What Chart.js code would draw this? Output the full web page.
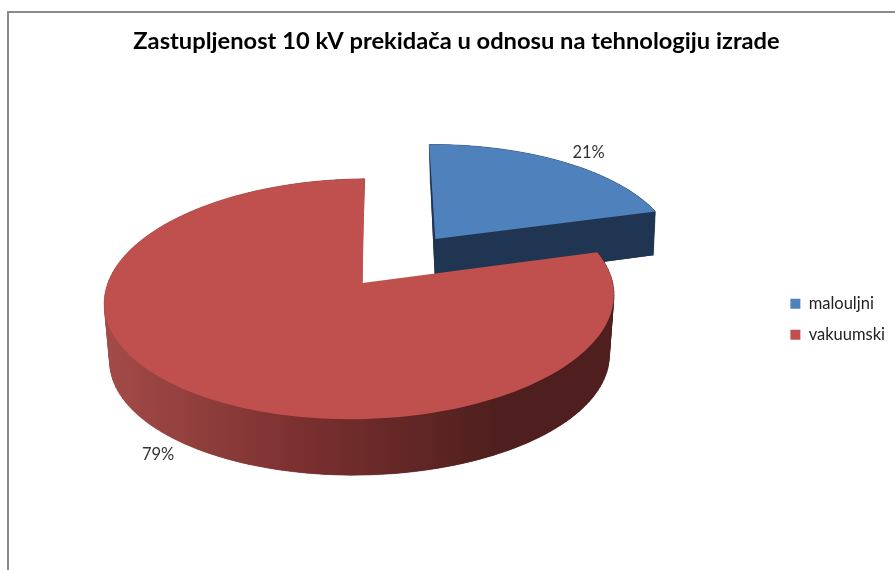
<!DOCTYPE html>
<html><head><meta charset="utf-8">
<style>html,body{margin:0;padding:0;background:#fff}#w{width:895px;height:570px}</style>
<script src="https://cdn.jsdelivr.net/npm/chart.js@4"></script>
</head><body><div id="w"><canvas id="c" width="895" height="570"></canvas></div>
<script>
const categories = ['malouljni', 'vakuumski'];
const shares = [21, 79];
const sliceColors = ['#4f81bd', '#c0504d'];
const chartTitle = 'Zastupljenost 10 kV prekidača u odnosu na tehnologiju izrade';
const explode = [0.49, 0];
const labelRing = [1.25, 1.155];
const labelNudge = [[-2,8],[-3,-11]];

const TOP = {cx:362.5, cy:283, rx:252.5, ry:118, k:0.133, m:-0.012, sx:0.01, sy:-0.024};
const BOTS = [
  {cx:362.5, cy:331, rx:250, ry:125, k:0.133, m:-0.012, sx:0.016, sy:-0.024},
  {cx:362.5, cy:343, rx:247.5, ry:114.5, k:0.133, m:-0.012, sx:0, sy:-0.024}
];
function proj(p,u,v){
  const s=1/(1-p.k*v-p.m*u);
  return [p.cx+p.rx*s*(u-p.sx*v),p.cy+p.ry*s*(v+p.sy*u)];
}
function wedgePts(p,el,ex){
  const mid=(el.startAngle+el.endAngle)/2, ox=ex*Math.cos(mid), oy=ex*Math.sin(mid), pts=[];
  const n=160;
  for(let i=0;i<=n;i++){const a=el.startAngle+(el.endAngle-el.startAngle)*i/n;pts.push(proj(p,ox+Math.cos(a),oy+Math.sin(a)));}
  return {apex:proj(p,ox,oy),arc:pts};
}
function trace(ctx,pts){pts.forEach((q,i)=>i?ctx.lineTo(q[0],q[1]):ctx.moveTo(q[0],q[1]));ctx.closePath();}
const pie3d = {
  id:'pie3d',
  beforeDraw(chart){
    const c=chart.ctx;c.save();c.strokeStyle='#8a8a8a';c.lineWidth=2;
    c.beginPath();c.moveTo(8,570);c.lineTo(8,12);c.lineTo(895,12);c.stroke();c.restore();
  },
  beforeDatasetsDraw(chart){
    const c=chart.ctx, arcs=chart.getDatasetMeta(0).data;
    const wallFill=[ '#1f3552', (()=>{const g=c.createLinearGradient(104,0,500,0);
      g.addColorStop(0,'#a44b49');g.addColorStop(.5,'#7a302f');g.addColorStop(1,'#4e1f1e');return g;})() ];
    arcs.forEach((el,i)=>{
      const t=wedgePts(TOP,el,explode[i]), b=wedgePts(BOTS[i],el,explode[i]);
      c.save();
      c.fillStyle=wallFill[i];c.strokeStyle=wallFill[i];c.lineWidth=0.6;
      c.beginPath();trace(c,[b.apex,...b.arc]);c.fill();
      for(let j=0;j<t.arc.length-1;j++){
        c.beginPath();trace(c,[t.arc[j],t.arc[j+1],b.arc[j+1],b.arc[j]]);c.fill();c.stroke();
      }
      if(explode[i]>0){
        c.beginPath();trace(c,[t.apex,t.arc[0],b.arc[0],b.apex]);c.fill();
        c.beginPath();trace(c,[t.apex,t.arc[t.arc.length-1],b.arc[b.arc.length-1],b.apex]);c.fill();
      }
      c.fillStyle=sliceColors[i];
      c.beginPath();trace(c,[t.apex,...t.arc]);c.fill();
      c.restore();
    });
    return false;
  },
  afterDraw(chart){
    const c=chart.ctx, arcs=chart.getDatasetMeta(0).data, total=shares.reduce((a,b)=>a+b,0);
    c.save();c.font='16.5px Lato';c.fillStyle='#333';c.textAlign='center';c.textBaseline='middle';
    arcs.forEach((el,i)=>{
      const mid=(el.startAngle+el.endAngle)/2, r=explode[i]+labelRing[i];
      const p=proj(Math.sin(mid)>0?BOTS[i]:TOP,r*Math.cos(mid),r*Math.sin(mid));
      c.fillText(Math.round(shares[i]/total*100)+'%',p[0]+labelNudge[i][0],p[1]+labelNudge[i][1]);
    });
    c.restore();
  }
};
new Chart(document.getElementById('c'),{
  type:'pie',
  data:{labels:categories,datasets:[{data:shares,backgroundColor:sliceColors,borderWidth:0}]},
  plugins:[pie3d],
  options:{
    responsive:false,animation:false,
    layout:{padding:{left:18,right:0,top:27,bottom:0}},
    plugins:{
      tooltip:{enabled:false},
      title:{display:true,text:chartTitle,color:'#000',font:{family:'Lato',size:23.7,weight:'bold'},padding:{top:0,bottom:13}},
      legend:{position:'right',fullSize:false,labels:{color:'#222',font:{family:'Lato',size:16.5},boxWidth:10,boxHeight:10,padding:14.5}}
    }
  }
});
</script></body></html>
